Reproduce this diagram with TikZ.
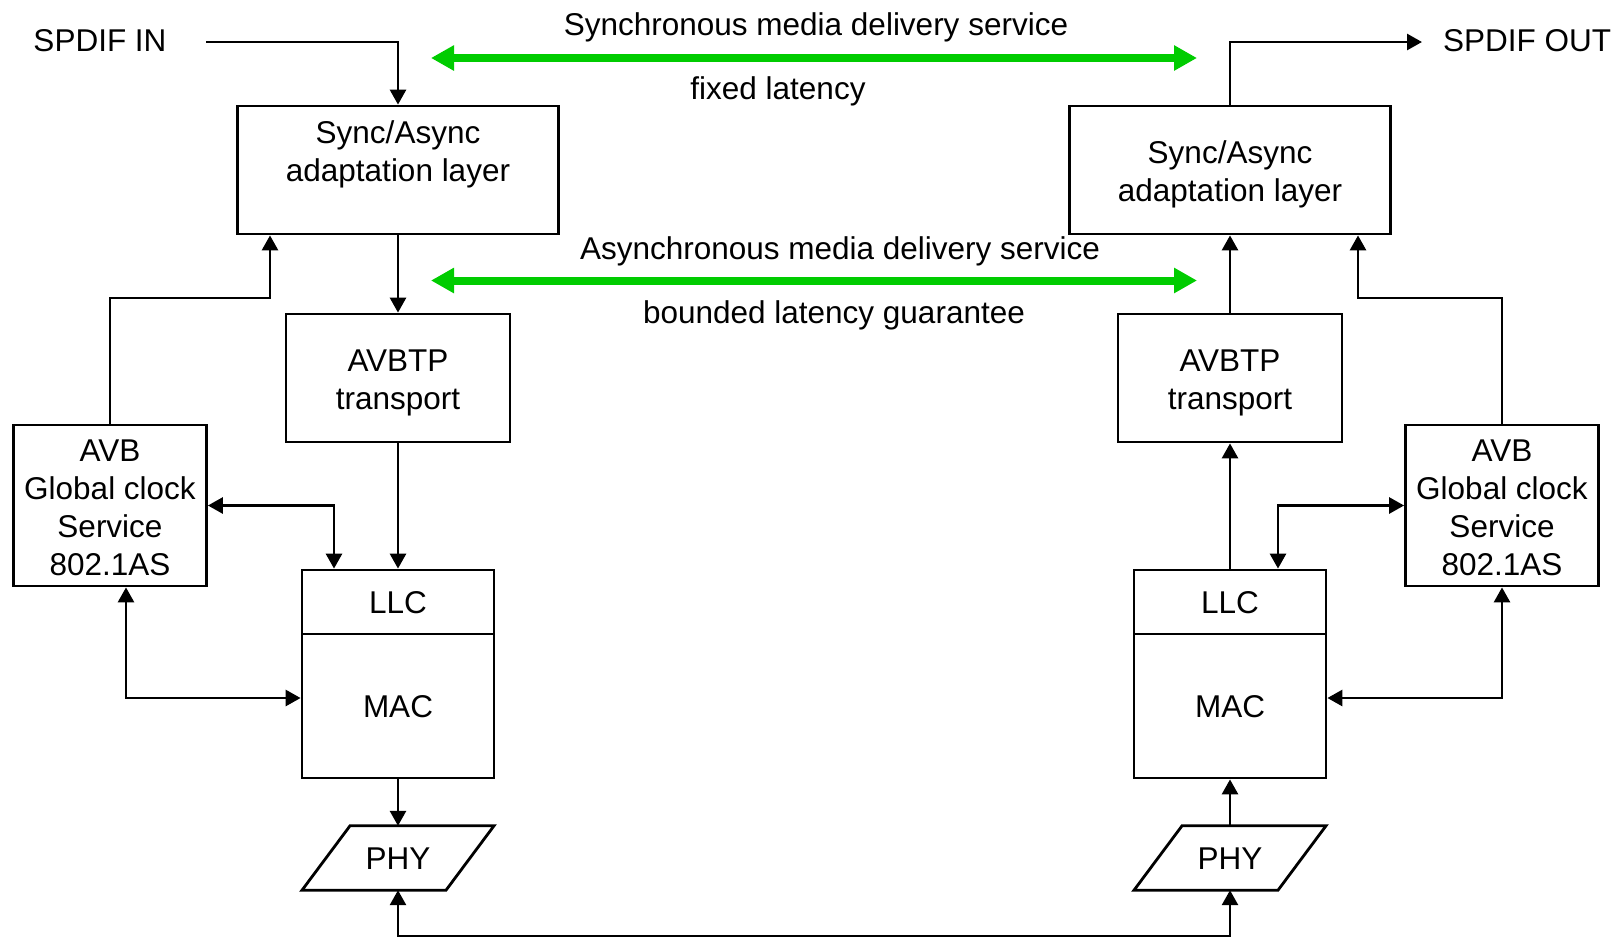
\documentclass[tikz,border=0pt]{standalone}
\usepackage{fontspec}
\setmainfont{Liberation Sans}
\usetikzlibrary{arrows.meta}
\definecolor{avbgreen}{RGB}{0,204,0}
\newcommand{\tpstrut}{\rule{0pt}{31pt}}
\newcommand{\avbstrut}{\rule{0pt}{27pt}}
\begin{document}
\begin{tikzpicture}[x=1pt,y=-1pt,
  font=\fontsize{31.5}{38}\selectfont,
  box/.style={draw, line width=2.8pt, align=center, inner sep=0pt},
  conn/.style={line width=2.8pt, -{Triangle[length=15pt,width=16pt]}},
  conn2/.style={line width=2.8pt, {Triangle[length=15pt,width=16pt]}-{Triangle[length=15pt,width=16pt]}},
  garrow/.style={line width=8pt, draw=avbgreen, {Triangle[length=23pt,width=24pt]}-{Triangle[length=23pt,width=24pt]}},
  lbl/.style={inner sep=0pt, text height=22.7pt, text depth=0pt},
  phybox/.style={inner sep=0pt, minimum width=144pt, minimum height=64pt, text height=22.7pt, text depth=0pt}
]
\useasboundingbox (0,0) rectangle (1623,938);

% labels
\node[lbl] (spdifIn) at (100,40) {SPDIF IN};
\node[lbl, anchor=west] (spdifOut) at (1443,40) {SPDIF OUT};
\node[lbl] (lSync) at (816,24) {Synchronous media delivery service};
\node[lbl] (lFixed) at (778,88) {fixed latency};
\node[lbl] (lAsync) at (840,248) {Asynchronous media delivery service};
\node[lbl] (lBound) at (834,312) {bounded latency guarantee};

% left stack
\node[box, minimum width=321pt, minimum height=128pt] (syncL) at (398,170) {Sync/Async\\adaptation layer\\\mbox{}};
\node[box, minimum width=224pt, minimum height=128pt] (avbtpL) at (398,378) {\tpstrut AVBTP\\transport};
\node[box, minimum width=193pt, minimum height=161pt] (avbL) at (110,505.5) {\avbstrut AVB\\Global clock\\Service\\802.1AS};
\node[box, minimum width=192pt, minimum height=64pt, text height=22.7pt, text depth=0pt] (llcL) at (398,602) {LLC};
\node[box, minimum width=192pt, minimum height=144pt, text height=22.7pt, text depth=0pt] (macL) at (398,706) {MAC};
\node[phybox] (phyL) at (398,858) {PHY};
\draw[line width=2.8pt] ([xshift=-48pt]phyL.north) -- ([xshift=96pt]phyL.north) -- ([xshift=48pt]phyL.south) -- ([xshift=-96pt]phyL.south) -- cycle;

% right stack
\node[box, minimum width=321pt, minimum height=128pt] (syncR) at (1230,170) {\tpstrut Sync/Async\\adaptation layer};
\node[box, minimum width=224pt, minimum height=128pt] (avbtpR) at (1230,378) {\tpstrut AVBTP\\transport};
\node[box, minimum width=193pt, minimum height=161pt] (avbR) at (1502,505.5) {\avbstrut AVB\\Global clock\\Service\\802.1AS};
\node[box, minimum width=192pt, minimum height=64pt, text height=22.7pt, text depth=0pt] (llcR) at (1230,602) {LLC};
\node[box, minimum width=192pt, minimum height=144pt, text height=22.7pt, text depth=0pt] (macR) at (1230,706) {MAC};
\node[phybox] (phyR) at (1230,858) {PHY};
\draw[line width=2.8pt] ([xshift=-48pt]phyR.north) -- ([xshift=96pt]phyR.north) -- ([xshift=48pt]phyR.south) -- ([xshift=-96pt]phyR.south) -- cycle;

% green service arrows
\coordinate (gTopL) at (431,58);
\coordinate (gTopR) at (1197,58);
\coordinate (gBotL) at (431,280.5);
\coordinate (gBotR) at (1197,280.5);
\draw[garrow] (gTopL) -- (gTopR);
\draw[garrow] (gBotL) -- (gBotR);

% SPDIF in / out
\coordinate (inStart) at (206,42);
\coordinate (outEnd) at (1422,42);
\draw[conn] (inStart) -| (syncL.north);
\draw[conn] (syncR.north) |- (outEnd);

% left connectors
\draw[conn] (syncL.south) -- (avbtpL.north);
\draw[conn] (avbtpL.south) -- (llcL.north);
\draw[conn] (macL.south) -- (phyL.north);
\coordinate (fbL) at (270,298);
\draw[conn] (avbL.north) |- (fbL) -- (fbL |- syncL.south);
\draw[conn2] (avbL.east) -| ([xshift=-64pt]llcL.north);
\draw[conn2] ([xshift=16pt]avbL.south) |- ([yshift=8pt]macL.west);

% right connectors
\draw[conn] (avbtpR.north) -- (syncR.south);
\draw[conn] (llcR.north) -- (avbtpR.south);
\draw[conn] (phyR.north) -- (macR.south);
\coordinate (fbR) at (1358,298);
\draw[conn] (avbR.north) |- (fbR) -- (fbR |- syncR.south);
\draw[conn2] (avbR.west) -| ([xshift=48pt]llcR.north);
\draw[conn2] ([yshift=8pt]macR.east) -| (avbR.south);

% bottom link
\coordinate (botMid) at (814,936);
\draw[conn2] (phyL.south) |- (botMid) -| (phyR.south);
\end{tikzpicture}
\end{document}
